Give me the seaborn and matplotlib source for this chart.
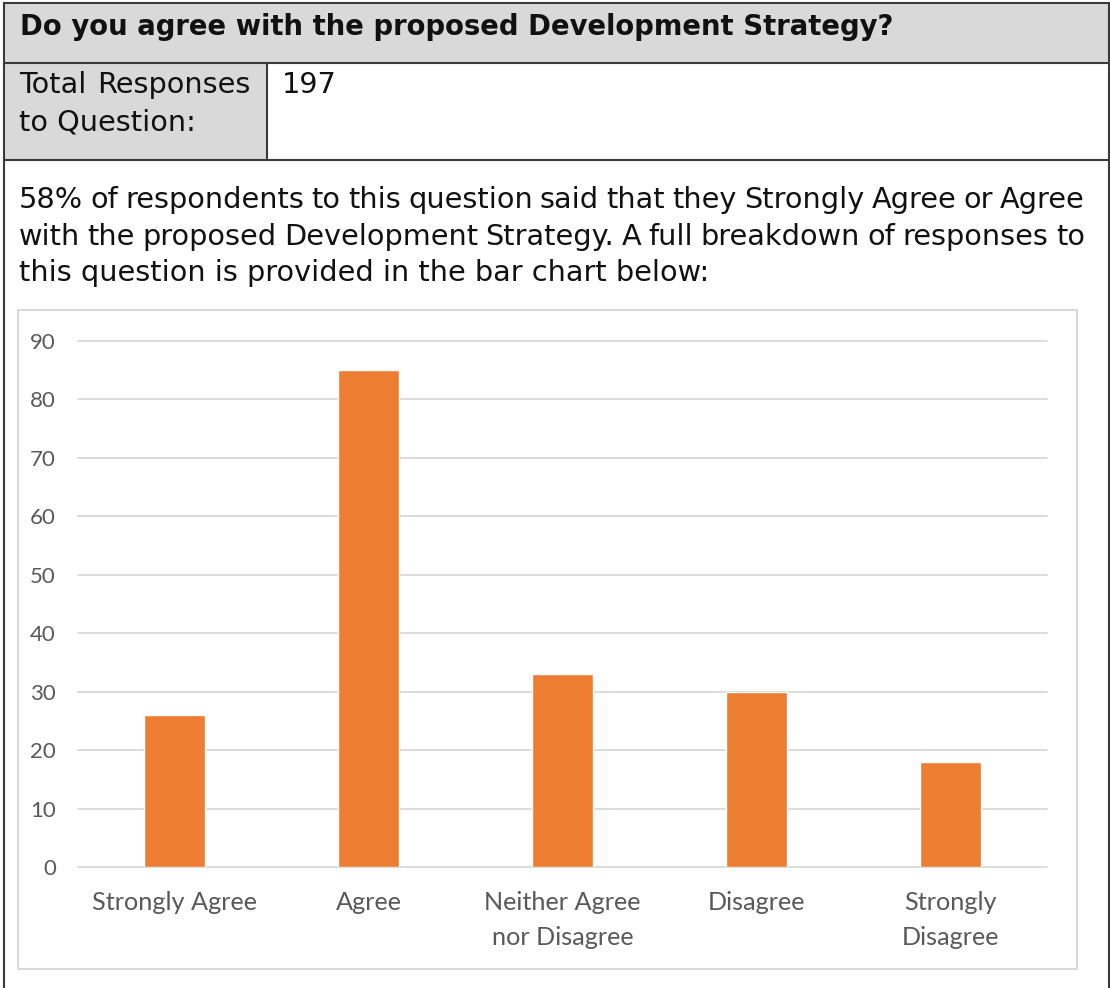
import matplotlib
matplotlib.use("Agg")
import matplotlib.pyplot as plt
import seaborn as sns
import pandas as pd
from matplotlib.patches import Rectangle
from matplotlib.lines import Line2D

# --- Data ---
categories = ["Strongly Agree", "Agree", "Neither Agree\nnor Disagree", "Disagree", "Strongly\nDisagree"]
responses = [26, 85, 33, 30, 18]
y_ticks = [0, 10, 20, 30, 40, 50, 60, 70, 80, 90]

question = "Do you agree with the proposed Development Strategy?"
total_label = ["Total Responses", "to Question:"]
total_value = "197"
summary_lines = [
    "58% of respondents to this question said that they Strongly Agree or Agree",
    "with the proposed Development Strategy. A full breakdown of responses to",
    "this question is provided in the bar chart below:",
]

# --- Figure setup ---
W, H = 1110, 988
sns.set_style("white")
plt.rcParams['font.family'] = ['DejaVu Sans']

fig = plt.figure(figsize=(W / 100, H / 100), dpi=100)
renderer = fig.canvas.get_renderer()


def fx(x):
    return x / W


def fy(y):
    return 1 - y / H


def rect(x0, y0, x1, y1, **kw):
    fig.add_artist(Rectangle((fx(x0), fy(y1)), fx(x1) - fx(x0), fy(y0) - fy(y1),
                             transform=fig.transFigure, **kw))


def line(x0, y0, x1, y1, **kw):
    fig.add_artist(Line2D([fx(x0), fx(x1)], [fy(y0), fy(y1)], transform=fig.transFigure, **kw))


def text_width(s, **kw):
    t = fig.text(0, 0, s, **kw)
    w = t.get_window_extent(renderer).width
    t.remove()
    return w


def put_line(s, x0, y, x1=None, **kw):
    # justified if x1 is given, otherwise left aligned
    if x1 is None:
        fig.text(fx(x0), fy(y), s, va='baseline', ha='left', **kw)
        return
    words = s.split()
    widths = [text_width(w, **kw) for w in words]
    gap = (x1 - x0 - sum(widths)) / (len(words) - 1)
    x = x0
    for w, wd in zip(words, widths):
        fig.text(fx(x), fy(y), w, va='baseline', ha='left', **kw)
        x += wd + gap


# --- Table backgrounds and borders ---
rect(4, 3, 1109, 63, facecolor='#D9D9D9', edgecolor='none')
rect(4, 63, 267, 160, facecolor='#D9D9D9', edgecolor='none')
border = dict(color='#3A3A3A', lw=1.5)
line(4, 3, 1109, 3, **border)
line(4, 63, 1109, 63, **border)
line(4, 160, 1109, 160, **border)
line(4, 3, 4, 988, **border)
line(1109, 3, 1109, 988, **border)
line(267, 63, 267, 160, **border)

# chart frame
rect(18, 310, 1077, 969, facecolor='none', edgecolor='#D9D9D9', lw=1.5)

# --- Texts ---
hdr_size = 1.06 * 20 * 827 / text_width(question, fontsize=20, fontweight='bold')
fig.text(fx(20), fy(35), question, fontsize=hdr_size, fontweight='bold', color='#111111',
         va='baseline', ha='left')

body_size = 20 * 689 / text_width(summary_lines[2], fontsize=20)
body = dict(fontsize=body_size, color='#111111')
put_line(total_label[0], 19, 93, 250, **body)
put_line(total_label[1], 19, 131, **body)
put_line(total_value, 282, 93, **body)

put_line(summary_lines[0], 19, 208, 1085, **body)
put_line(summary_lines[1], 19, 245, 1085, **body)
put_line(summary_lines[2], 19, 281, **body)

# --- Bar chart ---
ax = fig.add_axes([fx(78), fy(867), (1047 - 78) / W, (867 - 341) / H])
df = pd.DataFrame({'response': categories, 'count': responses})
sns.barplot(data=df, x='response', y='count', color='#ED7D31', saturation=1,
            width=0.315, ax=ax)

ax.set_ylim(0, 90)
ax.set_yticks(y_ticks)
ax.set_xlabel('')
ax.set_ylabel('')
for s in ax.spines.values():
    s.set_visible(False)
ax.grid(axis='y', color='#D9D9D9', lw=1.3)
ax.set_axisbelow(True)
ax.tick_params(axis='both', length=0, colors='#595959')
ax.tick_params(axis='x', pad=17)
ax.tick_params(axis='y', pad=16)
for lbl in ax.get_xticklabels():
    lbl.set_fontfamily('Lato')
    lbl.set_fontsize(18.2)
    lbl.set_linespacing(1.65)
for lbl in ax.get_yticklabels():
    lbl.set_fontfamily('Lato')
    lbl.set_fontsize(16)
for gl in ax.get_ygridlines():
    gl.set_clip_on(False)

fig.savefig("out.png", dpi=100)
